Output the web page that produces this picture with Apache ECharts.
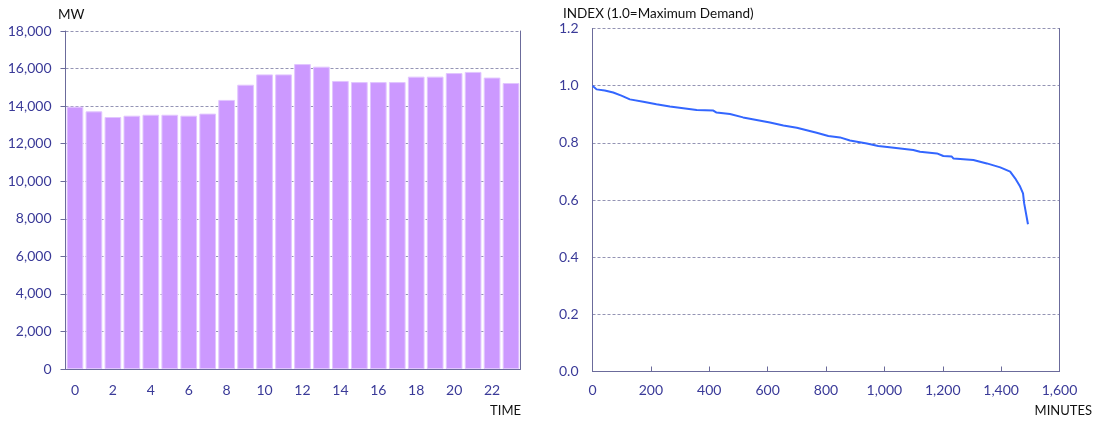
<!DOCTYPE html>
<html><head><meta charset="utf-8">
<script src="https://cdn.jsdelivr.net/npm/echarts@6/dist/echarts.min.js"></script>
<style>html,body{margin:0;padding:0;background:#fff}#c{width:1094px;height:421px}</style>
</head><body><div id="c"></div>
<script>
const hours = ['0','1','2','3','4','5','6','7','8','9','10','11','12','13','14','15','16','17','18','19','20','21','22','23'];
const demandMW = [13970,13720,13420,13490,13540,13540,13490,13600,14330,15140,15690,15690,16240,16100,15340,15280,15280,15280,15570,15570,15760,15820,15520,15230];
const durationMinutes = [0,14,42,71,99,128,174,219,265,311,357,414,425,471,516,562,608,654,700,768,808,848,882,940,979,1025,1031,1099,1122,1180,1202,1231,1237,1305,1351,1397,1431,1448,1465,1475,1479,1492];
const demandIndex = [1.0,0.987,0.983,0.976,0.965,0.952,0.944,0.935,0.927,0.921,0.915,0.913,0.906,0.901,0.889,0.880,0.871,0.861,0.853,0.835,0.824,0.819,0.808,0.798,0.789,0.784,0.780,0.775,0.769,0.763,0.754,0.752,0.745,0.740,0.728,0.714,0.699,0.676,0.647,0.623,0.588,0.515];

const FONT = 'Lato, "Open Sans", sans-serif';
const LBL = '#3a3a98';
const AXC = '#6b6b9b';
const GRIDC = '#9494b4';

const chart = echarts.init(document.getElementById('c'), null, {renderer:'canvas'});
chart.setOption({
  animation:false,
  textStyle:{fontFamily:FONT},
  grid:[
    {left:65.5, top:31, width:455, height:338},
    {left:592.5, top:28.5, width:467, height:343}
  ],
  xAxis:[
    {type:'category', gridIndex:0, data:hours, boundaryGap:true,
     axisLine:{lineStyle:{color:AXC,width:1}}, axisTick:{show:false},
     axisLabel:{interval:1, color:LBL, fontSize:14, fontFamily:FONT, margin:14}},
    {type:'value', gridIndex:1, min:0, max:1600, interval:200,
     axisLine:{lineStyle:{color:AXC,width:1}}, axisTick:{show:true, inside:true, length:5, lineStyle:{color:AXC}},
     splitLine:{show:false},
     axisLabel:{color:LBL, fontSize:14, fontFamily:FONT, margin:12,
       formatter:v=>v.toLocaleString('en-US')}}
  ],
  yAxis:[
    {type:'value', gridIndex:0, min:0, max:18000, interval:2000,
     axisLine:{show:true, lineStyle:{color:AXC,width:1}},
     axisTick:{show:true, length:5, lineStyle:{color:AXC}},
     splitLine:{lineStyle:{color:GRIDC, type:[3,2], width:1}},
     axisLabel:{color:LBL, fontSize:14, fontFamily:FONT, margin:14,
       formatter:v=>v.toLocaleString('en-US')}},
    {type:'value', gridIndex:0, position:'right', min:0, max:18000, interval:2000,
     axisLine:{show:true, lineStyle:{color:AXC,width:1}}, axisTick:{show:false},
     axisLabel:{show:false}, splitLine:{show:false}},
    {type:'value', gridIndex:1, min:0, max:1.2, interval:0.2,
     axisLine:{show:true, lineStyle:{color:AXC,width:1}}, axisTick:{show:false},
     splitLine:{lineStyle:{color:GRIDC, type:[3,2], width:1}},
     axisLabel:{color:LBL, fontSize:14, fontFamily:FONT, margin:14,
       formatter:v=>v.toFixed(1)}},
    {type:'value', gridIndex:1, position:'right', min:0, max:1.2, interval:0.2,
     axisLine:{show:true, lineStyle:{color:AXC,width:1}}, axisTick:{show:false},
     axisLabel:{show:false}, splitLine:{show:false}}
  ],
  series:[
    {type:'bar', xAxisIndex:0, yAxisIndex:0, data:demandMW, barCategoryGap:'12%',
     itemStyle:{color:'#cc99ff', borderColor:'#e2c6ff', borderWidth:1}},
    {type:'line', xAxisIndex:1, yAxisIndex:2, data:durationMinutes.map((m,i)=>[m,demandIndex[i]]),
     showSymbol:false, smooth:false, lineStyle:{color:'#3366ff', width:2}}
  ],
  graphic:[
    {type:'text', left:58, top:8, style:{text:'MW', fill:'#111', font:'13.5px '+FONT}},
    {type:'text', left:563, top:7, style:{text:'INDEX (1.0=Maximum Demand)', fill:'#111', font:'13.5px '+FONT}},
    {type:'text', right:573, top:404, style:{text:'TIME', fill:'#111', font:'13px '+FONT}},
    {type:'text', right:2, top:404, style:{text:'MINUTES', fill:'#111', font:'13px '+FONT}}
  ]
});
</script></body></html>
